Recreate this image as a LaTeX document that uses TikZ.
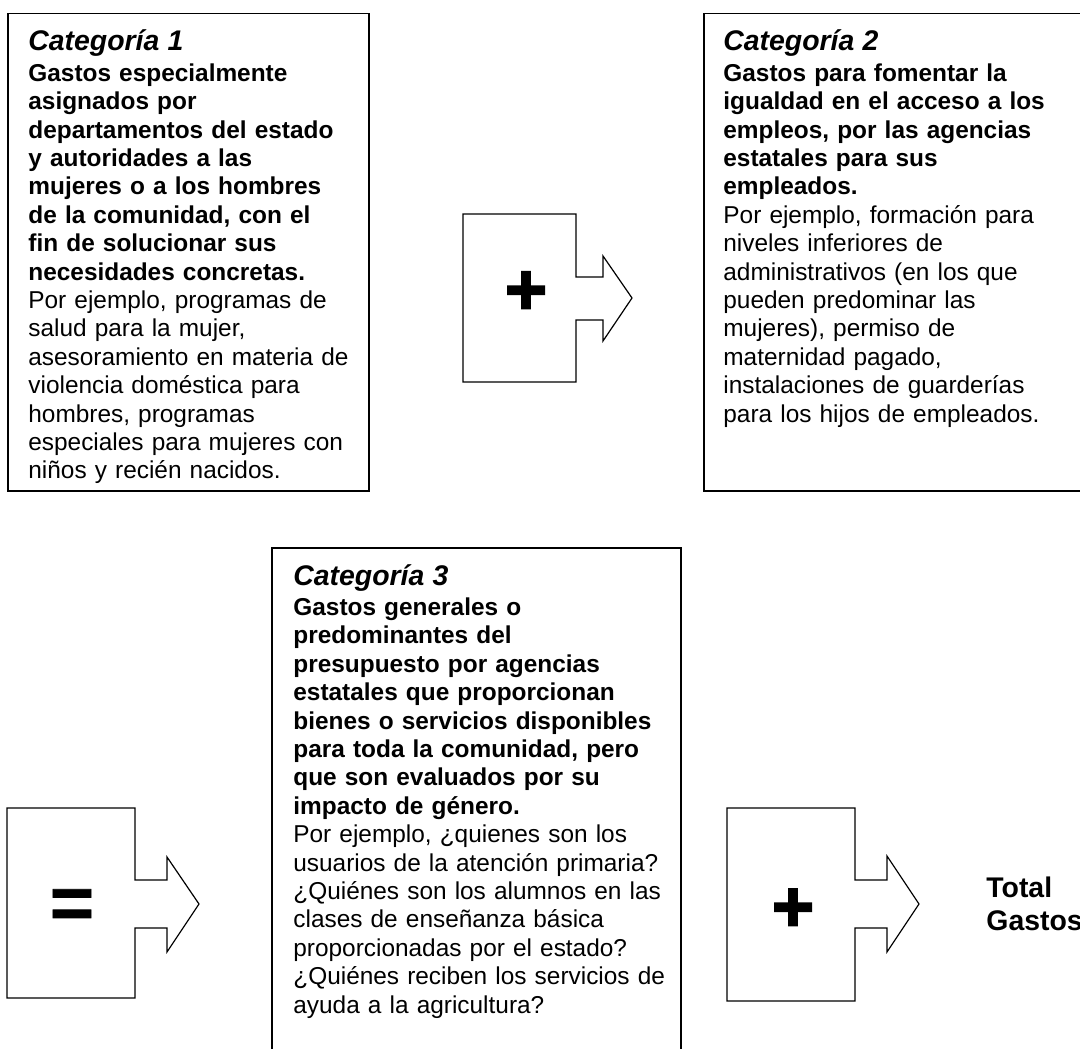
\documentclass[tikz,border=0pt]{standalone}
\usepackage{fontspec}
\setmainfont{Liberation Sans}
\newfontfamily\signfont[FakeBold=2.5]{Liberation Sans}
\newfontfamily\eqfont[FakeBold=1]{Liberation Sans}
\usetikzlibrary{positioning}
\tikzset{catbox/.style={rectangle, draw=black, line width=0.75pt, anchor=north west, inner sep=0pt},
         cattext/.style={anchor=base west, inner sep=0pt, text width=195pt, align=left, font=\fontsize{12.2}{14.2}\selectfont},
         sumarrow/.style={draw=black, line width=0.6pt, line join=miter},
         sign/.style={inner sep=0pt, font=\fontsize{38}{38}\selectfont\bfseries},
         totaltext/.style={anchor=north west, inner sep=0pt, align=left, font=\fontsize{14.2}{16.5}\selectfont\bfseries}}
\newcommand{\cattitle}[1]{{\fontsize{14.2}{15}\selectfont\bfseries\itshape #1\par}\vspace{1pt}}

\begin{document}
\begin{tikzpicture}[x=0.5pt, y=-0.5pt]
        \useasboundingbox (0,0) rectangle (1080,1048);
        \node (cat1)[catbox, minimum width=180.5pt, minimum height=238.5pt] at (7,13) {};
        \node (cat1txt)[cattext] at ([shift={(21,38)}]cat1.north west) {\cattitle{Categoría 1}
            {\bfseries Gastos especialmente\\ asignados por\\ departamentos del estado\\ y autoridades a las\\ mujeres o a los hombres\\ de la comunidad, con el\\ fin de solucionar sus\\ necesidades concretas.}\\
            Por ejemplo, programas de\\ salud para la mujer,\\ asesoramiento en materia de\\ violencia doméstica para\\ hombres, programas\\ especiales para mujeres con\\ niños y recién nacidos.};
        \node (cat2)[catbox, minimum width=190pt, minimum height=238.5pt] at (703,13) {};
        \node (cat2txt)[cattext] at ([shift={(20,38)}]cat2.north west) {\cattitle{Categoría 2}
            {\bfseries Gastos para fomentar la\\ igualdad en el acceso a los\\ empleos, por las agencias\\ estatales para sus\\ empleados.}\\
            Por ejemplo, formación para\\ niveles inferiores de\\ administrativos (en los que\\ pueden predominar las\\ mujeres), permiso de\\ maternidad pagado,\\ instalaciones de guarderías\\ para los hijos de empleados.};
        \node (cat3)[catbox, minimum width=204.5pt, minimum height=253pt] at (271,547) {};
        \node (cat3txt)[cattext] at ([shift={(22,38)}]cat3.north west) {\cattitle{Categoría 3}
            {\bfseries Gastos generales o\\ predominantes del\\ presupuesto por agencias\\ estatales que proporcionan\\ bienes o servicios disponibles\\ para toda la comunidad, pero\\ que son evaluados por su\\ impacto de género.}\\
            Por ejemplo, ¿quienes son los\\ usuarios de la atención primaria?\\ ¿Quiénes son los alumnos en las\\ clases de enseñanza básica\\ proporcionadas por el estado?\\ ¿Quiénes reciben los servicios de\\ ayuda a la agricultura?};
        \draw [sumarrow] (463,214) -- ++(113,0) -- ++(0,63) -- ++(27,0) -- ++(0,-21) -- ++(29,42) -- ++(-29,43) -- ++(0,-21) -- ++(-27,0) -- ++(0,62) -- ++(-113,0) -- cycle;
        \node (plus1)[sign, font=\fontsize{36}{36}\selectfont\signfont\bfseries] at (526,293) {+};
        \draw [sumarrow] (7,808) -- ++(128,0) -- ++(0,72) -- ++(32,0) -- ++(0,-23) -- ++(32,47) -- ++(-32,48) -- ++(0,-24) -- ++(-32,0) -- ++(0,70) -- ++(-128,0) -- cycle;
        \node (equals)[sign, font=\fontsize{38}{38}\selectfont\eqfont\bfseries] at (72,909) {=};
        \draw [sumarrow] (727,808) -- ++(128,0) -- ++(0,72) -- ++(32,0) -- ++(0,-24) -- ++(32,48) -- ++(-32,48) -- ++(0,-24) -- ++(-32,0) -- ++(0,73) -- ++(-128,0) -- cycle;
        \node (plus2)[sign, font=\fontsize{36}{36}\selectfont\signfont\bfseries] at (793,910) {+};
        \node (total)[totaltext] at (986,877) {Total\\Gastos};
    \end{tikzpicture}
\end{document}
